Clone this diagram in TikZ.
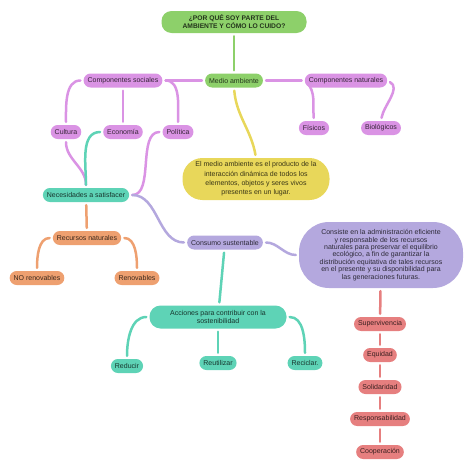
\documentclass[tikz,border=0pt]{standalone}
\usepackage{fontspec}
\setmainfont{Liberation Sans}
\usetikzlibrary{arrows.meta,positioning,calc}
\definecolor{cgreen}{HTML}{8DD06A}
\definecolor{cpurple}{HTML}{DA93E4}
\definecolor{cyellow}{HTML}{E8D75A}
\definecolor{cteal}{HTML}{5ED3B6}
\definecolor{corange}{HTML}{EEA070}
\definecolor{clav}{HTML}{B4A8DE}
\definecolor{csalmon}{HTML}{E67F7F}
\tikzset{pill/.style={fill=#1,text=#1!25!black,rounded corners=7pt,inner xsep=4pt,inner ysep=2pt,minimum height=14pt,align=center,font=\fontsize{7}{8.5}\selectfont},
link/.style={draw=#1,line width=2.5pt,line cap=round,shorten <=3pt,shorten >=3pt}}
\begin{document}
\begin{tikzpicture}[x=1pt,y=-1pt]
\useasboundingbox (0,0) rectangle (474,471);
\node[pill=cgreen,rounded corners=10pt,minimum width=145pt,minimum height=22pt,font=\fontsize{6.7}{8}\selectfont\bfseries] (title) at(234,22){¿POR QUÉ SOY PARTE DEL\\AMBIENTE Y CÓMO LO CUIDO?};
\node[pill=cgreen] (medio) at(234,80.5){Medio ambiente};
\node[pill=cpurple] (compsoc) at(123,80.5){Componentes sociales};
\node[pill=cpurple] (compnat) at(346,80.5){Componentes naturales};
\node[pill=cpurple] (cultura) at(66,132){Cultura};
\node[pill=cpurple] (economia) at(123,132){Economía};
\node[pill=cpurple] (politica) at(178,132){Política};
\node[pill=cpurple] (fisicos) at(314,128){Físicos};
\node[pill=cpurple] (biologicos) at(381,128){Biológicos};
\node[pill=cyellow,rounded corners=20pt,minimum width=147pt,minimum height=42pt,font=\fontsize{7}{9.3}\selectfont] (definicion) at(256,179){El medio ambiente es el producto de la\\interacción dinámica de todos los\\elementos, objetos y seres vivos\\presentes en un lugar.};
\node[pill=cteal] (necesidades) at(86,195){Necesidades a satisfacer};
\node[pill=corange] (recursos) at(87,238){Recursos naturales};
\node[pill=corange] (norenov) at(37,278){NO renovables};
\node[pill=corange] (renov) at(137,278){Renovables};
\node[pill=clav] (consumo) at(225,242.5){Consumo sustentable};
\node[pill=clav,rounded corners=30pt,minimum width=164pt,minimum height=66pt,font=\fontsize{7}{7.4}\selectfont] (consiste) at(381,255){Consiste en la administración eficiente\\y responsable de los recursos\\naturales para preservar el equilibrio\\ecológico, a fin de garantizar la\\distribución equitativa de tales recursos\\en el presente y su disponibilidad para\\las generaciones futuras.};
\node[pill=cteal,rounded corners=11pt,minimum width=137pt,minimum height=23pt] (acciones) at(218,317){Acciones para contribuir con la\\sostenibilidad};
\node[pill=cteal] (reducir) at(127,366){Reducir};
\node[pill=cteal] (reutilizar) at(218,363){Reutilizar};
\node[pill=cteal] (reciclar) at(305,363){Reciclar.};
\node[pill=csalmon] (v1) at(380,324){Supervivencia};
\node[pill=csalmon] (v2) at(380,355){Equidad};
\node[pill=csalmon] (v3) at(380,387){Solidaridad};
\node[pill=csalmon] (v4) at(380,419){Responsabilidad};
\node[pill=csalmon] (v5) at(380,452){Cooperación};
% ramas superiores
\draw[link=cgreen](title)--(medio);
\draw[link=cpurple](medio)--(compsoc);
\draw[link=cpurple](medio)--(compnat);
\draw[link=cyellow](medio.south) to[out=-85,in=100](definicion.north);
\draw[link=cpurple](compsoc.west) to[out=180,in=90](cultura.north);
\draw[link=cpurple](compsoc)--(economia);
\draw[link=cpurple](compsoc.east) to[out=0,in=90](politica.north);
\draw[link=cpurple](compnat.west) to[out=-45,in=95](fisicos.north);
\draw[link=cpurple](compnat.east) to[out=-30,in=80](biologicos.north);
% hacia necesidades
\draw[link=cpurple](cultura.south) to[out=-90,in=90](necesidades.north);
\draw[link=cteal](economia.west) to[out=180,in=90](necesidades.north);
\draw[link=cpurple](politica.west) to[out=180,in=0,looseness=0.9](necesidades.east);
\draw[link=corange](necesidades)--(recursos);
\draw[link=corange](recursos.west) to[out=180,in=90](norenov.north);
\draw[link=corange](recursos.east) to[out=0,in=90](renov.north);
\draw[link=clav](necesidades.east) to[out=0,in=180](consumo.west);
% consumo sustentable
\draw[link=clav](consumo.east) to[out=0,in=180](consiste.west);
\draw[link=cteal](consumo)--(acciones);
\draw[link=cteal](acciones.west) to[out=180,in=90](reducir.north);
\draw[link=cteal](acciones)--(reutilizar);
\draw[link=cteal](acciones.east) to[out=0,in=90](reciclar.north);
\draw[link=csalmon](consiste)--(v1);
\foreach \a/\b in {v1/v2,v2/v3,v3/v4,v4/v5}
  \draw[link=csalmon](\a)--(\b);
\end{tikzpicture}
\end{document}
